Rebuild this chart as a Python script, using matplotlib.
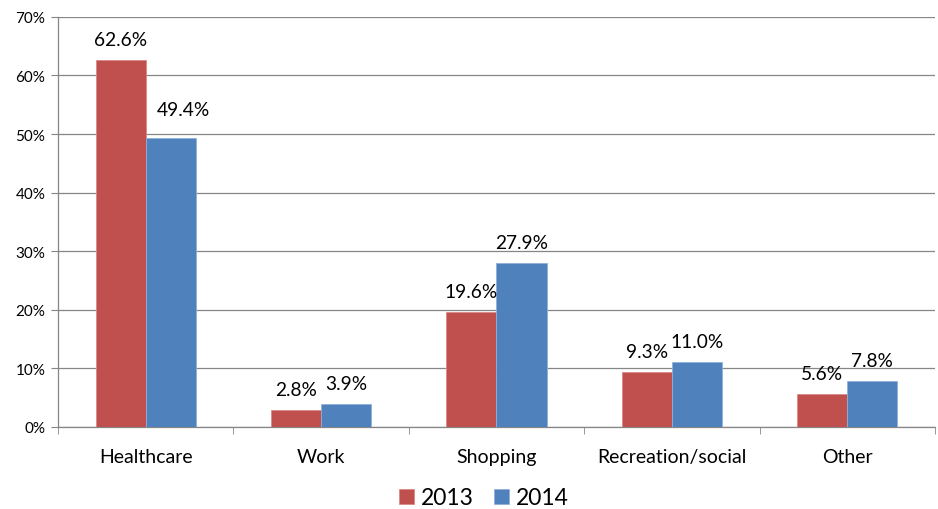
import numpy as np
import matplotlib.pyplot as plt
from matplotlib.ticker import PercentFormatter

categories = ["Healthcare", "Work", "Shopping", "Recreation/social", "Other"]
values_2013 = [62.6, 2.8, 19.6, 9.3, 5.6]
values_2014 = [49.4, 3.9, 27.9, 11.0, 7.8]
years = ["2013", "2014"]

plt.rcParams['font.family'] = ['Lato', 'DejaVu Sans']

fig = plt.figure(figsize=(9.38, 5.10), dpi=100)
ax = fig.add_axes([0.0618, 0.161, 0.935, 0.804])

x = np.arange(len(categories))
w = 0.286
red = '#C0504D'
blue = '#4F81BD'
grey = '#868686'

b1 = ax.bar(x - w / 2, values_2013, w, color=red, edgecolor='#D88A88', linewidth=0.6, label=years[0], zorder=3)
b2 = ax.bar(x + w / 2, values_2014, w, color=blue, edgecolor='#8FB0DA', linewidth=0.6, label=years[1], zorder=3)

for k, bars in enumerate((b1, b2)):
    for i, r in enumerate(bars):
        h = r.get_height()
        # the healthcare 2014 label sits a bit off to the right in the original
        dx, dy = (9, 14) if (k == 1 and i == 0) else (0, 9)
        ax.annotate(f"{h:.1f}%", (r.get_x() + r.get_width() / 2, h),
                    xytext=(dx, dy), textcoords='offset points',
                    ha='center', va='bottom', fontsize=13.8)

ax.set_xlim(-0.5, len(categories) - 0.5)
ax.set_ylim(0, 70)
ax.set_yticks(np.arange(0, 71, 10))
ax.yaxis.set_major_formatter(PercentFormatter(decimals=0))
ax.grid(axis='y', color=grey, linewidth=0.9, zorder=0)

ax.set_xticks(x)
ax.set_xticklabels(categories, fontsize=14)
ax.set_xticks(np.arange(-0.5, len(categories)), minor=True)
ax.tick_params(axis='x', which='major', length=0, pad=15)
ax.tick_params(axis='x', which='minor', length=5, color=grey)
ax.tick_params(axis='y', length=5, color=grey, labelsize=11, pad=4)

for s in ('top', 'right'):
    ax.spines[s].set_visible(False)
for s in ('left', 'bottom'):
    ax.spines[s].set_color(grey)
    ax.spines[s].set_linewidth(0.9)

fig.legend(loc='center', bbox_to_anchor=(0.516, 0.022), ncol=2, frameon=False,
           fontsize=16.5, handlelength=0.65, handleheight=0.65, handletextpad=0.3,
           columnspacing=0.9)

fig.savefig('out.png', dpi=100)
